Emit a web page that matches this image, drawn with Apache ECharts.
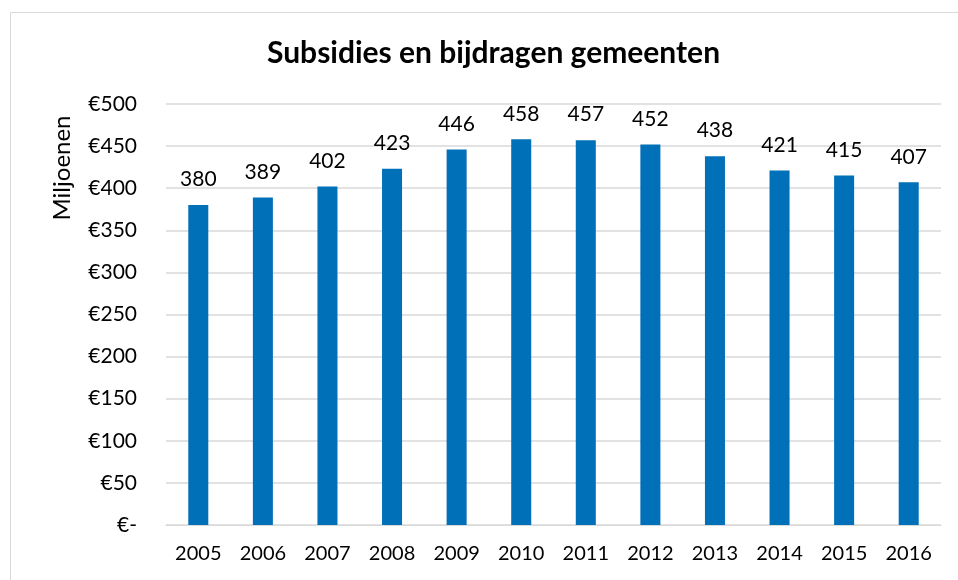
<!DOCTYPE html>
<html><head><meta charset="utf-8">
<script src="https://cdn.jsdelivr.net/npm/echarts@6/dist/echarts.min.js"></script>
<style>html,body{margin:0;padding:0;background:#fff}#c{width:958px;height:580px}</style>
</head><body><div id="c"></div>
<script>
const categories = ['2005','2006','2007','2008','2009','2010','2011','2012','2013','2014','2015','2016'];
const values = [380,389,402,423,446,458,457,452,438,421,415,407];
const titleText = 'Subsidies en bijdragen gemeenten';
const yAxisName = 'Miljoenen';
const FONT = 'Lato, "Open Sans", sans-serif';
const chart = echarts.init(document.getElementById('c'));
chart.setOption({
  animation:false,
  backgroundColor:'#fff',
  title:{text:titleText,left:262,top:33,textStyle:{fontFamily:FONT,fontSize:30,fontWeight:'bold',color:'#000'}},
  graphic:[
    {type:'rect',shape:{x:10.5,y:12.5,width:960,height:600},style:{fill:'none',stroke:'#d9d9d9',lineWidth:1},silent:true},
    {type:'text',x:62,y:168,rotation:Math.PI/2,style:{text:yAxisName,fontFamily:FONT,fontSize:24,fill:'#000',align:'center',verticalAlign:'middle'}}
  ],
  grid:{left:166,right:17,top:104,bottom:55},
  xAxis:{type:'category',data:categories,axisLine:{lineStyle:{color:'#d9d9d9'}},axisTick:{show:false},
    axisLabel:{fontFamily:FONT,fontSize:20,color:'#000',margin:19}},
  yAxis:{type:'value',min:0,max:500,interval:50,axisLine:{show:false},axisTick:{show:false},
    splitLine:{lineStyle:{color:'#d9d9d9',width:1.5}},
    axisLabel:{fontFamily:FONT,fontSize:21,color:'#000',margin:29,formatter:v=>v===0?'€-':'€'+v}},
  series:[{type:'bar',data:values,barWidth:'31%',itemStyle:{color:'#0070b8'},
    label:{show:true,position:'top',distance:15,fontFamily:FONT,fontSize:21,color:'#000'}}]
});
</script></body></html>
